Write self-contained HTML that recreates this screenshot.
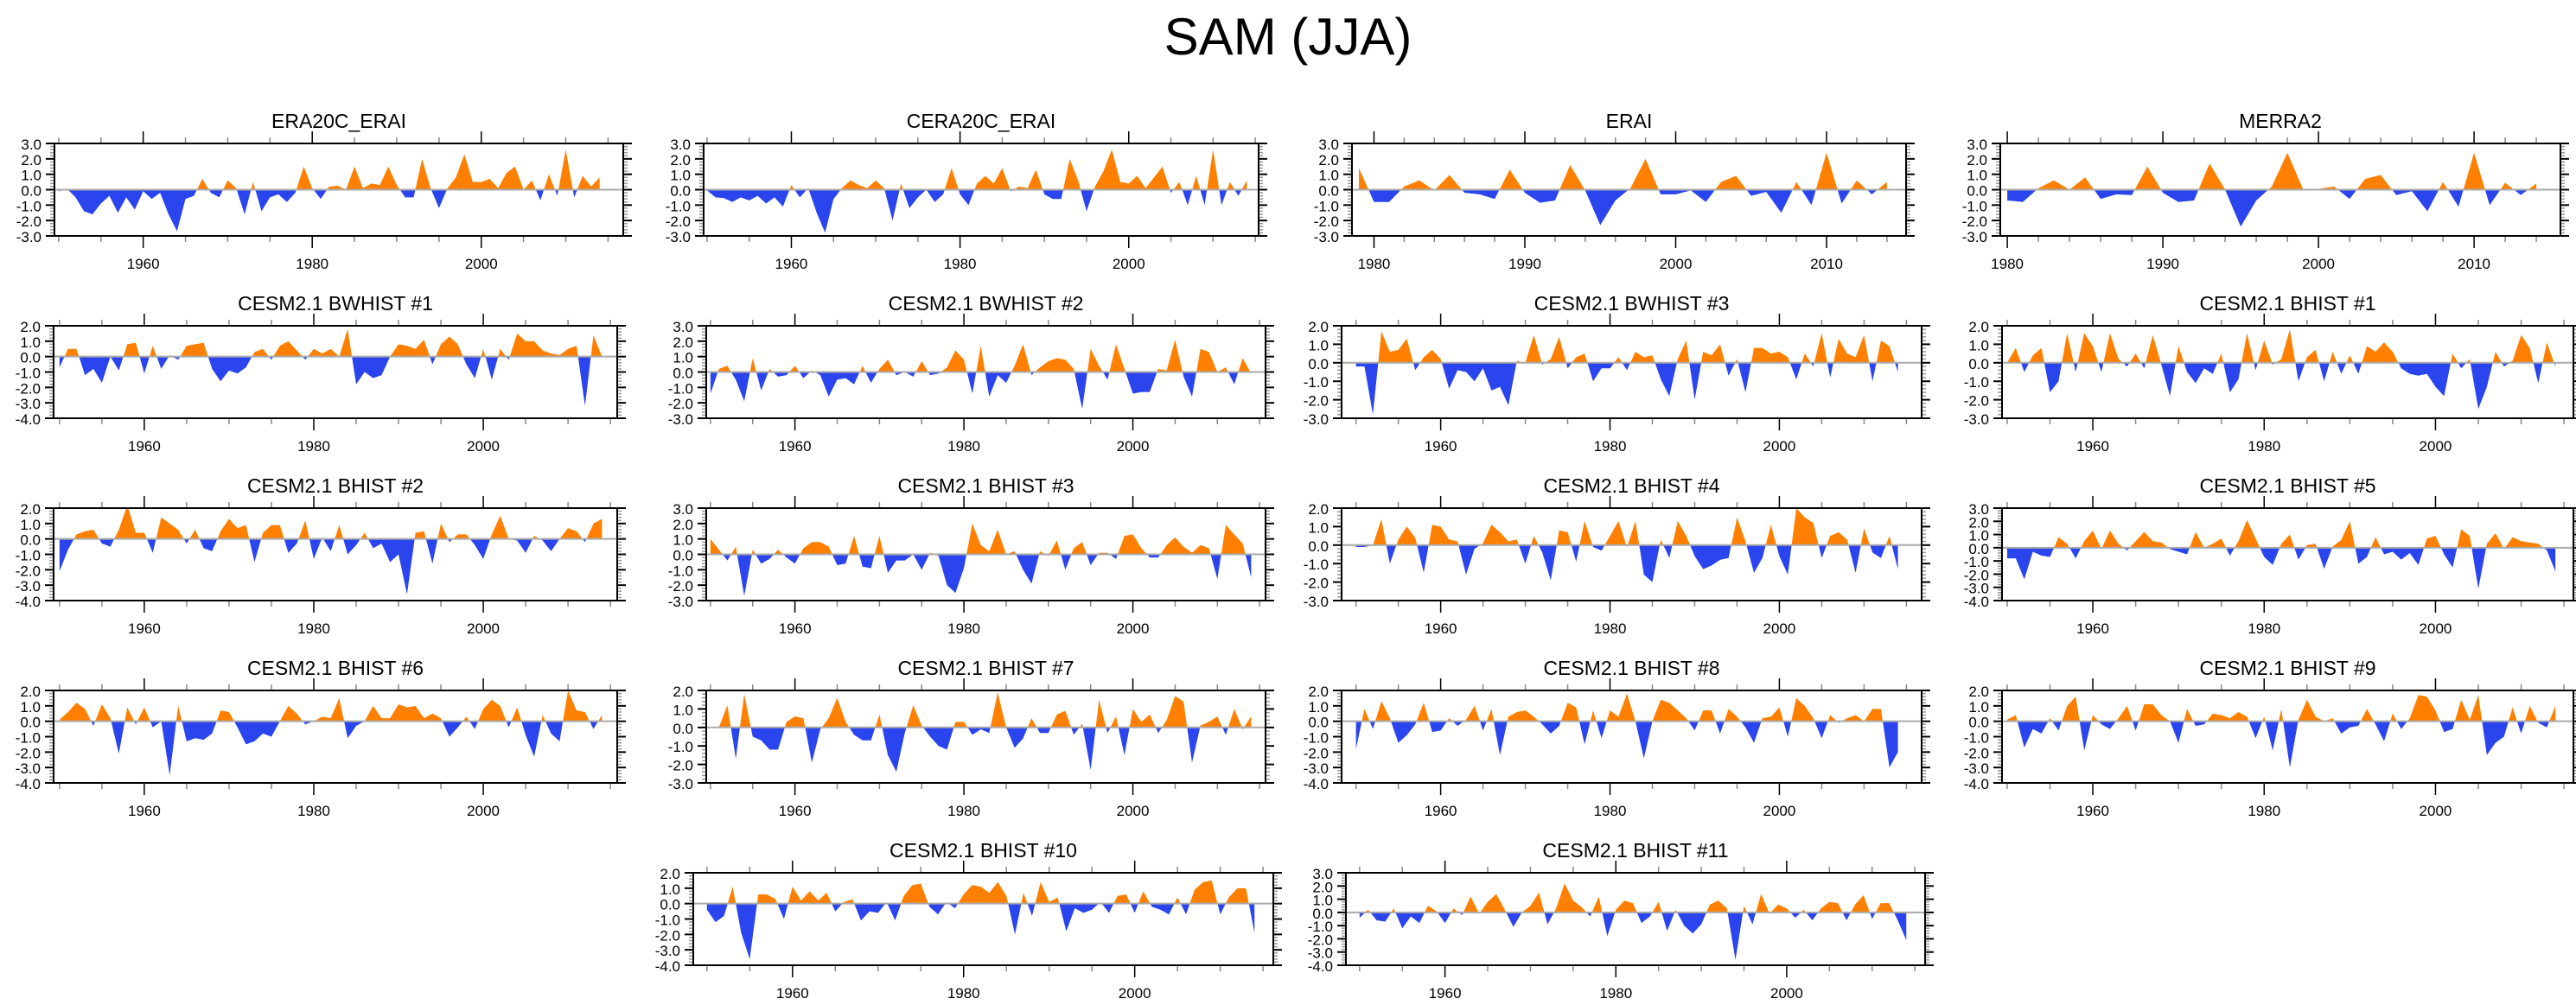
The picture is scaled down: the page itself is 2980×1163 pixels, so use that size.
<!DOCTYPE html>
<html><head><meta charset="utf-8"><style>
html,body{margin:0;padding:0;background:#fff;}
svg{display:block;font-family:"Liberation Sans",Arial,sans-serif;}
</style></head><body>
<svg id="fig" width="2980" height="1163" viewBox="0 0 2980 1163" xmlns="http://www.w3.org/2000/svg">
<rect width="2980" height="1163" fill="#fff"/>
<text x="1490" y="63" text-anchor="middle" font-size="60">SAM (JJA)</text>
</svg>
<script>
const era20c = [-0.1,0.05,-0.5,-1.4,-1.6,-0.9,-0.4,-1.5,-0.5,-1.3,-0.1,-0.6,-0.2,-1.6,-2.7,-0.6,-0.4,0.7,-0.2,-0.5,0.6,0.1,-1.6,0.5,-1.4,-0.5,-0.3,-0.8,-0.2,1.5,0.1,-0.6,0.2,0.25,0.0,1.5,0.1,0.4,0.3,1.5,0.3,-0.5,-0.5,2.0,0.1,-1.2,0.1,0.8,2.3,0.5,0.5,0.7,0.1,1.1,1.5,0.0,0.6,-0.7,1.0,-0.4,2.6,-0.5,0.9,0.2,0.8];
const cera20c = [-0.05,-0.5,-0.55,-0.8,-0.5,-0.7,-0.4,-0.9,-0.5,-1.1,0.3,-0.5,0.1,-1.5,-2.8,-0.6,0.1,0.6,0.3,0.1,0.6,0.1,-2.0,0.4,-1.2,-0.5,0.0,-0.8,-0.3,1.4,-0.3,-1.0,0.4,0.9,0.4,1.4,-0.1,0.2,0.1,1.3,-0.3,-0.6,-0.6,2.0,0.6,-1.4,0.2,1.2,2.6,0.5,0.4,0.9,0.1,0.8,1.5,-0.2,0.5,-1.0,0.9,-1.0,2.6,-1.0,0.5,-0.4,0.6];
const erai = [1.4,-0.8,-0.8,0.2,0.6,-0.05,0.95,-0.2,-0.3,-0.6,1.3,-0.2,-0.85,-0.7,1.6,-0.05,-2.3,-0.7,0.1,2.0,-0.3,-0.3,-0.05,-0.8,0.5,0.9,-0.4,-0.15,-1.5,0.5,-1.0,2.4,-0.9,0.6,-0.3,0.5];
const merra2 = [-0.7,-0.8,0.1,0.6,0.0,0.8,-0.6,-0.3,-0.35,1.5,-0.2,-0.8,-0.7,1.7,0.0,-2.4,-0.7,0.2,2.4,0.05,0.05,0.2,-0.6,0.7,0.95,-0.35,-0.1,-1.4,0.5,-1.1,2.4,-1.0,0.45,-0.35,0.4];
const bwhist1 = [-0.7,0.5,0.5,-1.2,-0.8,-1.7,0.0,-0.9,0.8,0.9,-1.1,0.7,-0.8,0.1,-0.2,0.7,0.8,0.9,-0.8,-1.6,-0.9,-1.1,-0.7,0.3,0.5,-0.2,0.7,1.0,0.4,-0.2,0.5,0.2,0.5,0.0,1.8,-1.8,-1.0,-1.4,-1.2,0.0,0.8,0.7,0.5,1.1,-0.5,0.8,1.3,0.8,-0.5,-1.4,0.5,-1.5,0.5,-0.2,1.5,1.0,1.0,0.4,0.2,0.1,0.5,0.7,-3.2,1.4,0.0];
const bwhist2 = [-1.4,0.2,0.4,-0.5,-1.9,0.9,-1.2,0.2,-0.3,-0.2,0.4,-0.4,0.1,-0.2,-1.6,-0.5,-0.4,-0.8,0.4,-0.7,0.2,0.8,-0.2,0.0,-0.3,0.7,-0.2,-0.1,0.3,1.4,0.8,-1.4,1.7,-1.6,-0.2,-0.7,0.4,1.8,-0.2,0.3,0.7,0.9,0.8,0.2,-2.4,1.5,0.4,-0.5,1.8,0.2,-1.4,-1.3,-1.3,0.2,0.1,2.1,-0.3,-1.6,1.5,1.3,0.0,0.3,-0.8,0.9,-0.1];
const bwhist3 = [-0.2,-0.2,-2.8,1.7,0.6,0.7,1.3,-0.4,0.3,0.7,0.2,-1.4,-0.4,-0.5,-1.0,-0.3,-1.5,-1.3,-2.3,0.1,0.0,1.5,-0.1,0.2,1.4,-0.3,0.3,0.5,-1.0,-0.3,-0.3,0.3,-0.4,0.6,0.3,0.4,-0.9,-1.8,0.2,1.2,-2.0,0.6,0.4,1.0,-0.7,0.2,-1.6,0.8,0.8,0.5,0.6,0.3,-0.9,0.5,-0.2,1.6,-0.8,1.3,0.5,0.3,1.5,-1.0,1.2,0.9,-0.5];
const bhist1 = [0.0,0.8,-0.5,0.4,0.8,-1.6,-1.0,1.6,-0.5,1.6,0.9,-0.5,1.6,0.2,-0.2,0.5,-0.3,1.5,-0.1,-1.8,0.9,-0.5,-1.1,-0.3,-0.6,0.5,-1.6,-0.9,1.6,-0.4,1.2,-0.1,0.2,1.8,-1.0,0.3,0.7,-1.0,0.6,-0.6,0.4,-0.6,0.9,0.6,1.1,0.6,-0.3,-0.6,-0.7,-0.6,-1.3,-1.8,0.5,-0.3,0.2,-2.5,-1.3,0.6,-0.2,0.1,1.5,0.8,-1.1,1.1,-0.2];
const bhist2 = [-2.1,-0.7,0.3,0.5,0.6,-0.3,-0.5,0.6,2.2,0.4,0.4,-0.9,1.4,1.0,0.6,-0.3,0.6,-0.6,-0.8,0.5,1.3,0.7,0.9,-1.5,0.4,0.9,0.9,-0.9,-0.3,1.2,-1.3,0.1,-0.8,0.9,-1.0,-0.4,0.4,-0.6,-0.3,-1.5,-1.0,-3.6,0.4,0.5,-1.6,1.0,-0.2,0.3,0.3,-0.4,-1.3,0.3,1.5,0.0,-0.1,-0.9,0.2,-0.1,-0.8,0.0,0.7,0.5,-0.2,1.0,1.3];
const bhist3 = [1.0,0.3,-0.4,0.5,-2.7,0.3,-0.6,-0.3,0.3,-0.2,-0.6,0.4,0.8,0.8,0.5,-0.7,-0.6,1.2,-0.8,-0.9,1.2,-1.2,-0.4,-0.4,0.0,-1.0,0.1,-0.1,-2.0,-2.5,-0.9,2.0,0.6,0.2,1.6,0.0,0.2,-1.0,-1.9,0.2,-0.1,0.9,-1.0,0.4,0.8,-0.7,0.1,0.1,-0.3,1.2,1.3,0.4,-0.2,-0.2,0.6,1.1,0.5,0.1,0.6,0.4,-1.6,1.9,1.3,0.7,-1.5];
const bhist4 = [-0.1,-0.1,0.0,1.4,-1.0,0.3,1.0,0.4,-1.5,1.1,1.0,0.3,0.2,-1.6,-0.2,0.1,1.1,0.7,0.2,0.3,-1.0,0.5,-0.4,-1.9,0.8,0.7,-0.9,1.3,-0.1,-0.3,0.5,1.3,-0.1,1.3,-1.6,-2.0,0.3,-0.7,1.3,0.5,-0.6,-1.3,-1.1,-0.8,-0.7,1.5,0.2,-1.5,-0.7,1.1,-0.6,-1.6,2.0,1.5,1.2,-0.7,0.5,0.7,0.3,-1.5,0.9,-0.4,-0.7,0.5,-1.3];
const bhist5 = [-0.8,-0.8,-2.4,-0.3,-0.6,-0.7,0.8,0.3,-0.8,0.5,1.3,-0.1,1.3,0.3,-0.2,0.5,1.2,0.5,0.4,-0.1,-0.3,-0.5,1.2,0.0,0.3,0.7,-0.6,0.5,2.1,0.7,-0.7,-1.3,0.3,1.0,-0.9,0.2,0.3,-1.6,0.1,0.6,2.0,-1.2,-0.7,0.8,-0.5,-0.3,-0.9,-0.4,-1.3,0.7,0.9,-0.5,-1.5,1.4,0.9,-3.1,0.3,1.1,-0.1,0.8,0.5,0.4,0.3,-0.2,-1.8];
const bhist6 = [0.1,0.6,1.2,0.8,-0.3,1.1,0.2,-2.1,0.9,-0.2,0.9,-0.4,0.0,-3.5,1.0,-1.3,-1.1,-1.2,-0.8,0.7,0.6,-0.4,-1.5,-1.3,-0.8,-1.0,0.0,1.0,0.5,-0.2,0.0,0.3,0.2,1.5,-1.1,-0.3,0.0,1.0,0.2,0.2,1.1,0.9,1.0,0.2,0.5,0.2,-1.0,-0.4,0.3,-0.5,0.8,1.4,1.0,-0.4,0.9,-0.9,-2.3,0.4,-0.8,-1.3,2.0,0.7,0.6,-0.5,0.4];
const bhist7 = [0.0,0.0,1.2,-1.7,1.8,-0.5,-0.7,-1.2,-1.2,0.3,0.6,0.5,-1.9,-0.1,0.5,1.6,0.3,-0.4,-0.7,-0.7,0.7,-1.5,-2.4,-0.3,1.2,0.1,-0.5,-1.0,-1.2,0.3,0.3,-0.4,-0.1,-0.3,1.9,0.0,-1.1,-0.6,0.5,-0.3,-0.3,0.7,0.9,-0.4,0.2,-2.3,1.5,-0.3,0.6,-1.5,1.0,0.3,0.7,-0.3,0.4,1.7,1.4,-1.9,0.1,0.3,0.6,-0.4,1.0,-0.1,0.6];
const bhist8 = [-1.8,0.8,-0.5,1.3,0.2,-1.4,-0.9,-0.2,1.2,-0.7,-0.6,0.2,-0.3,0.1,1.0,-0.6,0.8,-2.2,0.3,0.6,0.7,0.3,-0.2,-0.8,-0.3,1.2,0.9,-1.5,0.7,-1.1,0.7,0.3,1.8,0.0,-2.4,0.0,1.4,1.2,0.7,0.2,-0.6,0.7,0.7,-0.8,0.8,0.3,-0.4,-1.4,0.2,0.3,0.9,-1.0,1.5,1.0,0.2,-1.1,0.4,-0.1,0.2,0.4,0.0,0.8,0.8,-3.0,-2.0];
const bhist9 = [0.1,0.4,-1.7,-0.5,-0.8,0.2,-0.6,1.0,1.6,-1.9,0.4,-0.2,-0.5,0.2,1.0,-0.6,1.1,1.1,0.4,0.0,-1.4,0.8,-0.3,-0.2,0.5,0.4,0.2,0.6,0.3,-1.1,0.3,-1.9,0.8,-3.0,0.1,1.4,0.3,0.0,0.2,-0.8,-0.4,-0.3,0.8,-0.2,-1.3,0.5,-0.5,0.2,1.7,1.6,0.7,-0.7,-0.5,1.4,0.1,1.7,-2.2,-1.4,-1.0,0.9,-0.8,1.0,-0.1,-0.4,1.0];
const bhist10 = [-0.4,-1.2,-0.8,1.1,-1.9,-3.6,0.6,0.6,0.3,-1.0,1.1,0.2,0.8,0.2,0.7,-0.5,0.1,0.3,-1.1,-0.5,-0.6,0.1,-1.1,0.5,1.2,1.3,-0.2,-0.7,0.1,-0.3,0.6,1.2,1.1,0.7,1.4,0.5,-2.0,0.7,-0.8,1.4,0.1,0.4,-1.8,-0.3,-0.6,-0.4,0.1,-0.6,0.5,0.6,-0.6,0.8,-0.2,-0.4,-0.7,0.4,-0.7,0.9,1.4,1.5,-0.7,0.4,1.0,1.0,-1.9];
const bhist11 = [-0.4,0.2,-0.6,-0.7,0.3,-1.2,-0.3,-0.8,0.5,0.1,-0.8,0.3,-0.2,1.2,-0.1,0.8,1.4,0.2,-1.1,0.0,0.5,1.5,-0.9,0.3,2.2,0.9,0.4,-0.3,1.2,-1.8,0.2,0.9,0.7,-0.8,-0.3,0.8,-1.4,0.2,-1.0,-1.6,-0.9,0.6,0.9,0.3,-3.6,0.5,-0.9,1.4,-0.1,0.6,0.3,-0.4,0.2,-0.6,0.3,0.8,0.7,-0.6,0.6,1.3,-0.5,0.7,0.7,-0.6,-2.1];

const panelTitles = ["ERA20C_ERAI","CERA20C_ERAI","ERAI","MERRA2","CESM2.1 BWHIST #1","CESM2.1 BWHIST #2","CESM2.1 BWHIST #3","CESM2.1 BHIST #1","CESM2.1 BHIST #2","CESM2.1 BHIST #3","CESM2.1 BHIST #4","CESM2.1 BHIST #5","CESM2.1 BHIST #6","CESM2.1 BHIST #7","CESM2.1 BHIST #8","CESM2.1 BHIST #9","CESM2.1 BHIST #10","CESM2.1 BHIST #11"];
const panelSeries = [era20c,cera20c,erai,merra2,bwhist1,bwhist2,bwhist3,bhist1,bhist2,bhist3,bhist4,bhist5,bhist6,bhist7,bhist8,bhist9,bhist10,bhist11];
const startYears = [1950,1950,1979,1980,1950,1950,1950,1950,1950,1950,1950,1950,1950,1950,1950,1950,1950,1950];
const yMaxes = [3,3,3,3,2,3,2,2,2,3,2,3,2,2,2,2,2,3];
const yMins = [-3,-3,-3,-3,-4,-3,-3,-3,-4,-3,-3,-4,-4,-3,-4,-4,-4,-4];

const layout = [
 [63,721,166,1949.5,2016.8],[814,1456,166,1949.6,2015.4],[1564,2205,166,1978.54,2015.27],[2314,2962,166,1979.55,2015.55],
 [62,714,377,1949.3,2015.8],[817,1464,377,1949.5,2015.7],[1552,2223,377,1948.3,2016.8],[2316,2977,377,1949.4,2016.1],
 [62,714,588,1949.3,2015.8],[817,1464,588,1949.5,2015.7],[1552,2223,588,1948.3,2016.8],[2316,2977,588,1949.4,2016.1],
 [62,714,799,1949.3,2015.8],[817,1464,799,1949.5,2015.7],[1552,2223,799,1948.3,2016.8],[2316,2977,799,1949.4,2016.1],
 [802,1473,1010,1948.4,2016.2],[1557,2227,1010,1948.4,2016.2]
];
const H = 107;
const ORANGE = "#ff8000", BLUE = "#2a44ee";
const NS = "http://www.w3.org/2000/svg";
const svg = document.getElementById('fig');
function mk(tag, attrs, parent){const e=document.createElementNS(NS,tag);for(const k in attrs)e.setAttribute(k,attrs[k]);(parent||svg).appendChild(e);return e;}

panelSeries.forEach((vals, p) => {
  const [L,R,T,xmin,xmax] = layout[p];
  const B = T + H;
  const ymin = yMins[p], ymax = yMaxes[p];
  const xs = y => L + (y - xmin) / (xmax - xmin) * (R - L);
  const ys = v => B - (v - ymin) / (ymax - ymin) * H;
  const g = mk('g', {});
  
  
  const t = mk('text', {x:(L+R)/2, y:T-18, 'text-anchor':'middle', 'font-size':23}, g);
  t.textContent = panelTitles[p];
  
  
  const y0 = ys(0);
  let d = 'M' + xs(startYears[p]) + ',' + y0;
  vals.forEach((v,i) => { d += ' L' + xs(startYears[p]+i).toFixed(2) + ',' + ys(v).toFixed(2); });
  d += ' L' + xs(startYears[p]+vals.length-1).toFixed(2) + ',' + y0 + ' Z';
  const cidA = 'ca'+p, cidB = 'cb'+p;
  const defs = mk('defs', {}, g);
  const ca = mk('clipPath', {id:cidA}, defs); mk('rect', {x:L, y:T, width:R-L, height:y0-T}, ca);
  const cb = mk('clipPath', {id:cidB}, defs); mk('rect', {x:L, y:y0, width:R-L, height:B-y0}, cb);
  const pa = mk('path', {d:d, fill:ORANGE, 'clip-path':'url(#'+cidA+')'}, g);
  
  
  const pb = mk('path', {d:d, fill:BLUE, 'clip-path':'url(#'+cidB+')'}, g);
  
  
  const zl = mk('line', {x1:L, x2:R, y1:y0, y2:y0, stroke:'#aaa', 'stroke-width':2}, g);
  
  
  for (let k = Math.round(ymin*5); k <= Math.round(ymax*5); k++) {
    const v = k/5, yy = ys(v), major = (k % 5 === 0);
    const len = major ? 10 : 5, col = major ? '#000' : '#999';
    mk('line', {x1:L-len, x2:L, y1:yy, y2:yy, stroke:col, 'stroke-width':major?2:1.5}, g);
    mk('line', {x1:R, x2:R+len, y1:yy, y2:yy, stroke:col, 'stroke-width':major?2:1.5}, g);
    if (major) {
      const lb = mk('text', {x:L-15, y:yy+7, 'text-anchor':'end', 'font-size':17}, g);
      lb.textContent = v.toFixed(1);
      
      
    }
  }
  const reanal = startYears[p] > 1960;
  const minorStep = reanal ? 2 : 5, majorStep = reanal ? 10 : 20;
  for (let yr = Math.ceil(xmin/minorStep)*minorStep; yr <= xmax; yr += minorStep) {
    const xx = xs(yr), major = (yr % majorStep === 0);
    const len = major ? 14 : 7, col = major ? '#000' : '#888';
    mk('line', {x1:xx, x2:xx, y1:B, y2:B+len, stroke:col, 'stroke-width':1.5}, g);
    mk('line', {x1:xx, x2:xx, y1:T-len, y2:T, stroke:col, 'stroke-width':1.5}, g);
    if (major) {
      const lb = mk('text', {x:xx, y:B+38, 'text-anchor':'middle', 'font-size':17}, g);
      lb.textContent = yr;
      
      
    }
  }
  const fr = mk('rect', {x:L, y:T, width:R-L, height:H, fill:'none', stroke:'#000', 'stroke-width':2}, g);
  
  
});
</script>
</body></html>
